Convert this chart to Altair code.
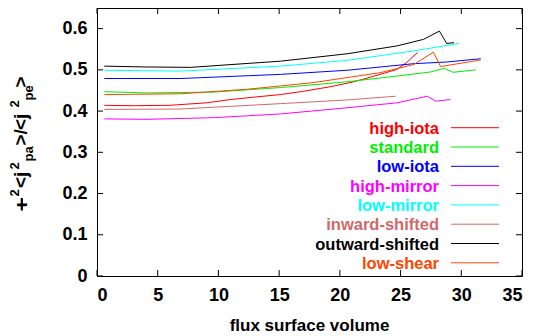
import altair as alt
import pandas as pd

FONT = "Liberation Sans"

series_names = ["high-iota", "standard", "low-iota", "high-mirror", "low-mirror",
                "inward-shifted", "outward-shifted", "low-shear"]
series_colors = ["#ff0000", "#00ee00", "#0000ff", "#ff00ff", "#00ffff",
                 "#d06a6a", "#000000", "#ff4500"]

hi_iota_x = [0.6, 3, 6, 9, 11, 13, 15.1, 17, 19.2, 21, 22.5, 24, 24.7, 25.5, 26.4]
hi_iota_y = [0.414, 0.413, 0.414, 0.420, 0.428, 0.434, 0.440, 0.448, 0.459, 0.470,
             0.482, 0.495, 0.501, 0.518, 0.542]
standard_x = [0.6, 4.1, 9.6, 15.1, 20.6, 24.7, 27.5, 28.6, 29.3, 31.2]
standard_y = [0.447, 0.444, 0.446, 0.457, 0.471, 0.485, 0.495, 0.504, 0.494, 0.500]
lo_iota_x = [0.6, 6.9, 15.1, 20.6, 26.1, 28.8, 31.6]
lo_iota_y = [0.479, 0.479, 0.489, 0.499, 0.515, 0.519, 0.527]
hi_mirror_x = [0.6, 4.1, 9.6, 15.1, 20.6, 24.7, 27.2, 27.9, 29.1]
hi_mirror_y = [0.381, 0.380, 0.384, 0.393, 0.408, 0.420, 0.436, 0.424, 0.428]
lo_mirror_x = [0.6, 6.9, 15.1, 20.6, 26.1, 29.8]
lo_mirror_y = [0.499, 0.497, 0.509, 0.523, 0.546, 0.564]
inward_x = [0.6, 6.9, 15.1, 20.6, 24.6]
inward_y = [0.404, 0.405, 0.418, 0.427, 0.436]
outward_x = [0.6, 4, 7.7, 15.1, 20.6, 24.7, 26.9, 28.2, 28.8, 29.4]
outward_y = [0.509, 0.507, 0.506, 0.521, 0.539, 0.558, 0.574, 0.594, 0.564, 0.566]
lo_shear_x = [0.6, 6.9, 12.4, 17.8, 23.3, 26.1, 27.7, 28.3, 31.6]
lo_shear_y = [0.440, 0.442, 0.453, 0.469, 0.493, 0.513, 0.543, 0.508, 0.524]

x_ticks = [0, 5, 10, 15, 20, 25, 30, 35]
y_ticks = [0, 0.1, 0.2, 0.3, 0.4, 0.5, 0.6]

all_x = [hi_iota_x, standard_x, lo_iota_x, hi_mirror_x, lo_mirror_x, inward_x, outward_x, lo_shear_x]
all_y = [hi_iota_y, standard_y, lo_iota_y, hi_mirror_y, lo_mirror_y, inward_y, outward_y, lo_shear_y]

rows = []
for name, xs_, ys_ in zip(series_names, all_x, all_y):
    for i, (a, b) in enumerate(zip(xs_, ys_)):
        rows.append({"series": name, "x": a, "y": b, "order": i})
df = pd.DataFrame(rows)

W, H = 425, 268
xsc = alt.Scale(domain=[0, 35], nice=False, zero=False)
ysc = alt.Scale(domain=[0, 0.65], nice=False, zero=False)
color = alt.Color("series:N", scale=alt.Scale(domain=series_names, range=series_colors), legend=None)

axis_common = dict(title=None, ticks=False, tickSize=0, domain=False, grid=False,
                   labelFont=FONT, labelFontSize=18, labelFontWeight="bold",
                   labelColor="black")
x_axis = alt.Axis(values=x_ticks, format="d", labelPadding=10, **axis_common)
y_axis = alt.Axis(values=y_ticks, format=".1~f", labelPadding=10, **axis_common)

lines = alt.Chart(df).mark_line(strokeWidth=1, clip=True).encode(
    x=alt.X("x:Q", scale=xsc, axis=x_axis),
    y=alt.Y("y:Q", scale=ysc, axis=y_axis),
    color=color,
    order=alt.Order("order:Q"),
)

xt = pd.DataFrame({"x": x_ticks})
yt = pd.DataFrame({"y": y_ticks})
TL = 6
tick_b = alt.Chart(xt).mark_rule(color="black", strokeWidth=1).encode(
    x=alt.X("x:Q", scale=xsc, axis=x_axis), y=alt.value(H), y2=alt.value(H - TL))
tick_t = alt.Chart(xt).mark_rule(color="black", strokeWidth=1).encode(
    x=alt.X("x:Q", scale=xsc, axis=x_axis), y=alt.value(0), y2=alt.value(TL))
tick_l = alt.Chart(yt).mark_rule(color="black", strokeWidth=1).encode(
    y=alt.Y("y:Q", scale=ysc, axis=y_axis), x=alt.value(0), x2=alt.value(TL))
tick_r = alt.Chart(yt).mark_rule(color="black", strokeWidth=1).encode(
    y=alt.Y("y:Q", scale=ysc, axis=y_axis), x=alt.value(W), x2=alt.value(W - TL))

leg_df = pd.DataFrame({"series": series_names, "idx": list(range(len(series_names)))})
leg_base = alt.Chart(leg_df).transform_calculate(ypix="119.7 + 19.3 * datum.idx")
leg_lines = leg_base.mark_rule(strokeWidth=1).encode(
    x=alt.value(354), x2=alt.value(402),
    y=alt.Y("ypix:Q", scale=None, axis=None), color=color)
leg_text = leg_base.mark_text(align="right", baseline="middle", font=FONT, fontSize=16.5,
                              fontWeight="bold", dy=1).encode(
    x=alt.value(342), y=alt.Y("ypix:Q", scale=None, axis=None),
    text="series:N", color=color)

one = pd.DataFrame({"k": [0]})
xtitle = alt.Chart(one).mark_text(text="flux surface volume", font=FONT, fontSize=17,
                                  fontWeight="bold", align="center", baseline="alphabetic",
                                  color="black").encode(x=alt.value(W / 2), y=alt.value(323))


def ypiece(txt, xb, ystart, size):
    return alt.Chart(one).mark_text(text=txt, font=FONT, fontSize=size, fontWeight="bold",
                                    angle=270, align="left", baseline="alphabetic",
                                    color="black").encode(
        x=alt.value(xb - 97), y=alt.value(ystart - 8))


# bar of the iota (rotational transform symbol)
iota_bar = alt.Chart(one).mark_rule(color="black", strokeWidth=2.2).encode(
    x=alt.value(21.8 - 97), y=alt.value(198 - 8), y2=alt.value(210.5 - 8))

MAIN, SMALL = 19, 13
SUPX, SUBX, MX = 19, 33, 27
ytitle = [
    ypiece("ι", MX, 207.5, MAIN),
    iota_bar,
    ypiece("2", SUPX, 196.5, SMALL),
    ypiece("<j", MX, 188, MAIN),
    ypiece("2", SUPX, 169.5, SMALL),
    ypiece("pa", SUBX, 161.5, SMALL),
    ypiece(">/", MX, 145.5, MAIN),
    ypiece("<j", MX, 130, MAIN),
    ypiece("2", SUPX, 107.5, SMALL),
    ypiece("pe", SUBX, 100.5, SMALL),
    ypiece(">", MX, 87.5, MAIN),
]

chart = alt.layer(lines, tick_b, tick_t, tick_l, tick_r, leg_lines, leg_text, xtitle, *ytitle).properties(
    width=W, height=H,
    padding={"left": 89, "top": 0, "right": 4, "bottom": 62},
    autosize=alt.AutoSizeParams(type="none"),
    background="white",
).configure_view(stroke="black", strokeWidth=1)

chart.save("out.html", embed_options={"renderer": "svg", "actions": False})
